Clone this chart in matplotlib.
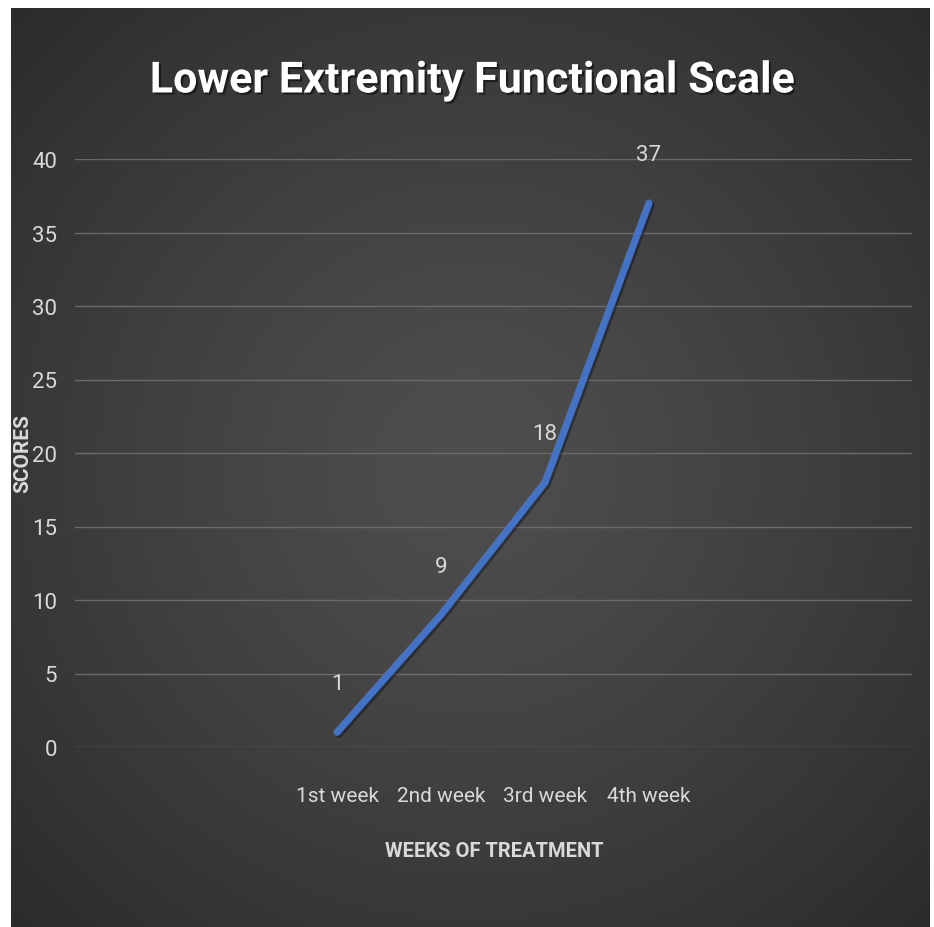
import numpy as np
import matplotlib
matplotlib.use("Agg")
import matplotlib.pyplot as plt
import matplotlib.patheffects as pe
from matplotlib import font_manager as fm

categories = ["1st week", "2nd week", "3rd week", "4th week"]
scores = [1, 9, 18, 37]
yticks = [0, 5, 10, 15, 20, 25, 30, 35, 40]

names = {f.name for f in fm.fontManager.ttflist}
fam = ['Liberation Sans Narrow', 'DejaVu Sans'] if 'Liberation Sans Narrow' in names else ['Roboto', 'DejaVu Sans']
plt.rcParams['font.family'] = fam

W, H = 934, 928
fig = plt.figure(figsize=(W / 100, H / 100), dpi=100, facecolor='white')

# background with radial gradient
bx0, bx1, by0, by1 = 11, 930, 9, 928
bg = fig.add_axes([bx0 / W, 1 - by1 / H, (bx1 - bx0) / W, (by1 - by0) / H])
nx, ny = 400, 400
xx, yy = np.meshgrid(np.linspace(-1, 1, nx), np.linspace(-1, 1, ny))
r = np.sqrt(xx ** 2 + yy ** 2) / np.sqrt(2)
c_in = np.array([0x4e, 0x4e, 0x4e]) / 255
c_out = np.array([0x2b, 0x2b, 0x2b]) / 255
t = np.clip(r, 0, 1) ** 1.3
img = c_in[None, None, :] * (1 - t[..., None]) + c_out[None, None, :] * t[..., None]
bg.imshow(img, aspect='auto', extent=[0, 1, 0, 1])
bg.set_axis_off()

# main axes
L, R, T, B = 75, 912, 160, 748
ax = fig.add_axes([L / W, 1 - B / H, (R - L) / W, (B - T) / H])
ax.set_facecolor('none')
x = np.arange(len(categories))
ax.plot(x, scores, color='#4472C4', lw=5.2, solid_capstyle='round', solid_joinstyle='round',
        path_effects=[pe.SimpleLineShadow(offset=(1.5, -1.5), shadow_color='black', alpha=0.35),
                      pe.Normal()], zorder=3)
for xi, v in zip(x, scores):
    ax.annotate(str(v), (xi, v), xytext=(0, 35), textcoords='offset points',
                ha='center', va='center', color='#d9d9d9', fontsize=16)

ax.set_xlim(-2.52, 5.53)
ax.set_ylim(0, 40)
ax.set_yticks(yticks)
ax.set_xticks(x)
ax.set_xticklabels(categories)
ax.grid(axis='y', color='#6a6a6a', lw=1)
ax.set_axisbelow(True)
for s in ax.spines.values():
    s.set_visible(False)
ax.tick_params(axis='both', length=0, colors='#d9d9d9', labelsize=16)
ax.tick_params(axis='x', labelsize=15, pad=28)
ax.tick_params(axis='y', pad=13)

fig.text(472 / W, 1 - 82 / H, "Lower Extremity Functional Scale", ha='center', va='center',
         color='white', fontsize=31, fontweight='bold',
         path_effects=[pe.withSimplePatchShadow(offset=(1.5, -1.5), shadow_rgbFace='black', alpha=0.5)])
fig.text(494 / W, 1 - 852 / H, "WEEKS OF TREATMENT", ha='center', va='center',
         color='#d9d9d9', fontsize=14.5, fontweight='bold')
fig.text(23 / W, 1 - 454 / H, "SCORES", ha='center', va='center', rotation=90,
         color='#d9d9d9', fontsize=15, fontweight='bold')

fig.savefig('out.png', dpi=100, facecolor='white')
